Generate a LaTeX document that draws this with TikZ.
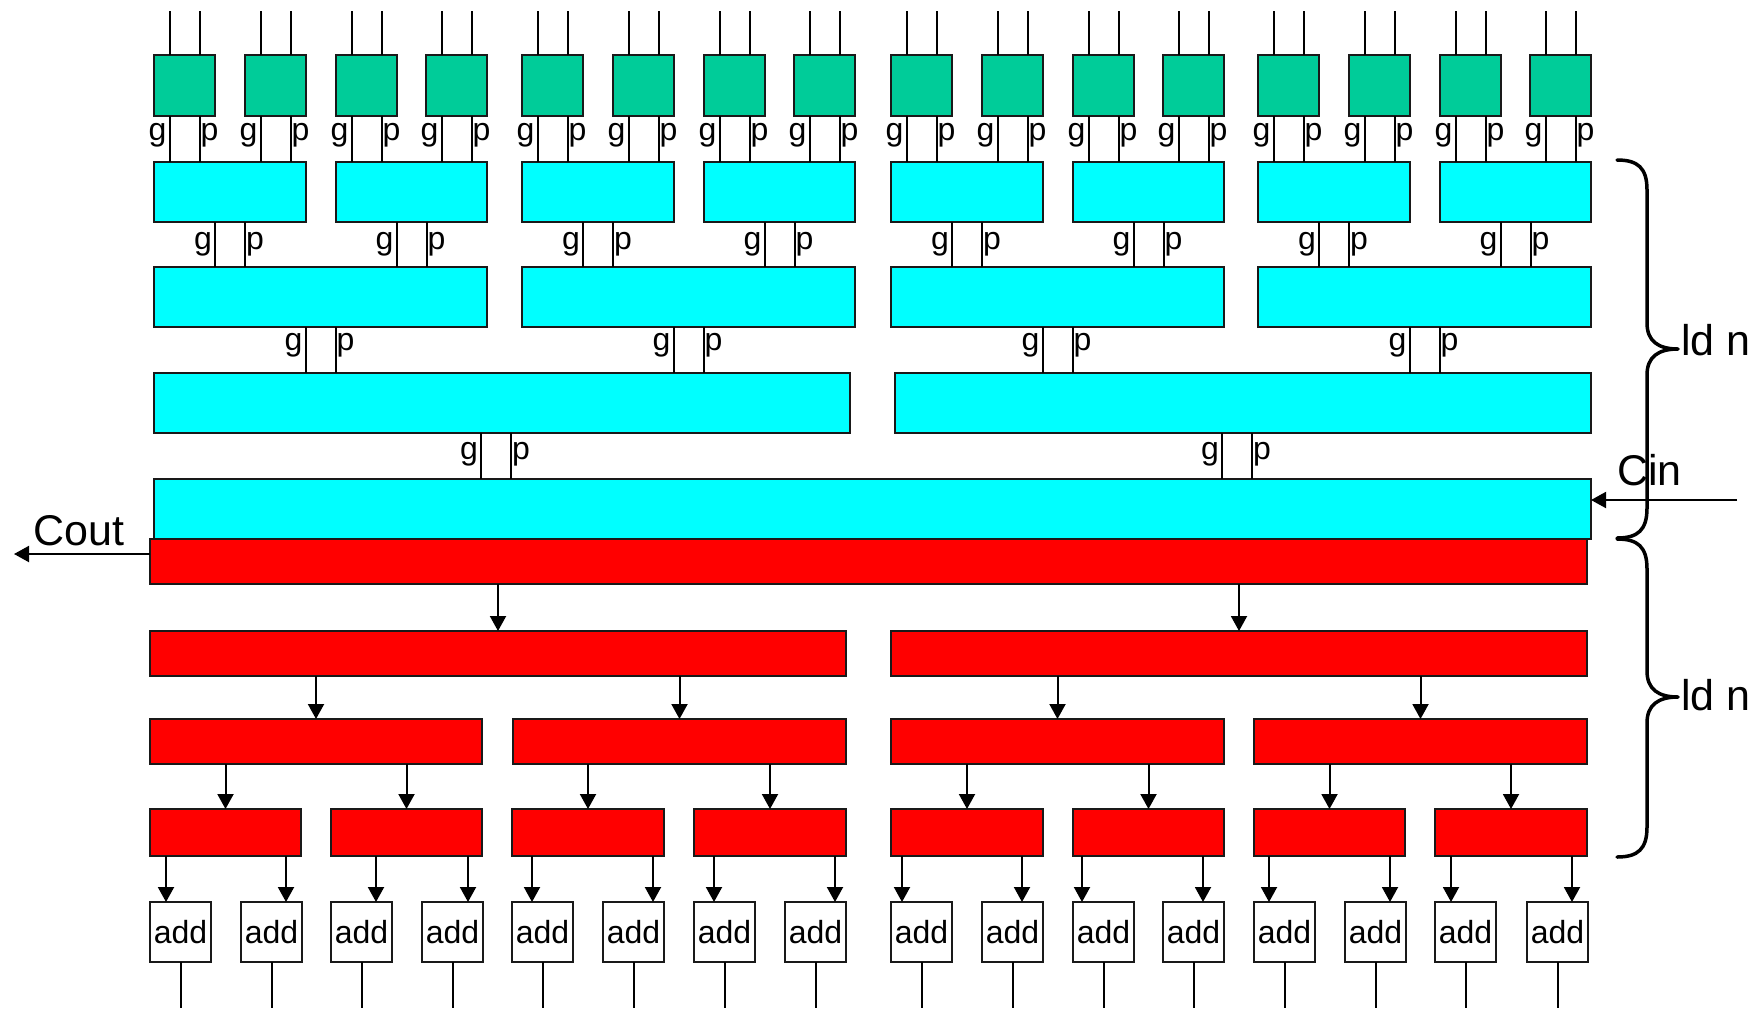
\documentclass[tikz,border=0pt]{standalone}
\usepackage{fontspec}
\setmainfont{Liberation Sans}
\usetikzlibrary{arrows.meta,fit}
\definecolor{gboxc}{RGB}{0,204,153}
\definecolor{cboxc}{RGB}{0,255,255}
\definecolor{rboxc}{RGB}{255,0,0}
\tikzset{
  box/.style={draw=black!90, line width=2pt, inner sep=0pt, outer sep=0pt},
  gbox/.style={box, fill=gboxc},
  cbox/.style={box, fill=cboxc},
  rbox/.style={box, fill=rboxc},
  abox/.style={box, fill=white, font=\fontsize{32}{32}\selectfont},
  wire/.style={line width=2pt, black},
  arr/.style={line width=2pt, black, -{Triangle[length=15pt,width=16pt]}},
  lbl/.style={inner sep=0pt, font=\fontsize{32}{32}\selectfont},
  big/.style={inner sep=0pt, font=\fontsize{43}{43}\selectfont},
  bracec/.style={line width=3.5pt, line cap=round, line join=round},
}
% #1 from node, #2 to node, #3 centre offset, #4 baseline coordinate, #5 name prefix
\newcommand{\gpwires}[5]{%
  \draw[wire] ([xshift=#3pt-15pt]#1.south) -- ([xshift=#3pt-15pt]#1.south |- #2.north);
  \draw[wire] ([xshift=#3pt+15pt]#1.south) -- ([xshift=#3pt+15pt]#1.south |- #2.north);
  \node[lbl, anchor=base east] (#5g) at ([xshift=#3pt-18pt]#1.south |- #4) {g};
  \node[lbl, anchor=base west] (#5p) at ([xshift=#3pt+16pt]#1.south |- #4) {p};
}
\newcommand{\brc}[3]{%
  \draw[bracec] (1617,#1) .. controls (1638,#1) and (1647,#1+8) .. (1647,#1+30)
    -- (1647,#2-26) .. controls (1647,#2-8) and (1658,#2) .. (1678,#2)
    .. controls (1658,#2) and (1647,#2+8) .. (1647,#2+26)
    -- (1647,#3-30) .. controls (1647,#3-8) and (1638,#3) .. (1617,#3);
}
\begin{document}
\begin{tikzpicture}[x=1pt,y=-1pt]
\useasboundingbox (0,0) rectangle (1763,1010);
% helper coordinates
\coordinate (topy) at (0,11);
\coordinate (bl0) at (0,140);
\coordinate (bl1) at (0,249);
\coordinate (bl2) at (0,350);
\coordinate (bl3) at (0,459);
\coordinate (outy) at (0,1008);

% green boxes
\foreach \l [count=\i] in {154,245,336,426,522,613,704,794,891,982,1073,1163,1258,1349,1440,1530}{
  \pgfmathsetmacro\xr{\l+61}
  \node[gbox, fit={(\l,55) (\xr,116)}] (g\i) {};
}
% level 1 cyan
\foreach \l/\xr [count=\j] in {154/306,336/487,522/674,704/855,891/1043,1073/1224,1258/1410,1440/1591}{
  \node[cbox, fit={(\l,162) (\xr,222)}] (c\j) {};
}
% level 2 cyan
\foreach \l/\xr [count=\j] in {154/487,522/855,891/1224,1258/1591}{
  \node[cbox, fit={(\l,267) (\xr,327)}] (d\j) {};
}
% level 3 cyan
\node[cbox, fit={(154,373) (850,433)}] (e1) {};
\node[cbox, fit={(895,373) (1591,433)}] (e2) {};
% level 4 cyan
\node[cbox, fit={(154,479) (1591,539)}] (f) {};

% input wires and g/p wires below green boxes
\foreach \i in {1,...,16}{
  \pgfmathtruncatemacro\j{(\i+1)/2}
  \draw[wire] ([xshift=-15pt]g\i.north) -- ([xshift=-15pt]g\i.north |- topy);
  \draw[wire] ([xshift=15pt]g\i.north) -- ([xshift=15pt]g\i.north |- topy);
  \gpwires{g\i}{c\j}{0}{bl0}{ga\i}
}
\foreach \i in {1,...,8}{
  \pgfmathtruncatemacro\j{(\i+1)/2}
  \gpwires{c\i}{d\j}{0}{bl1}{ca\i}
}
\foreach \i in {1,...,4}{
  \pgfmathtruncatemacro\j{(\i+1)/2}
  \gpwires{d\i}{e\j}{0}{bl2}{da\i}
}
\gpwires{e1}{f}{-6}{bl3}{ea1}
\gpwires{e2}{f}{-6}{bl3}{ea2}

% red tree
\node[rbox, fit={(150,539) (1587,584)}] (r0) {};
\node[rbox, fit={(150,631) (846,676)}] (r1a) {};
\node[rbox, fit={(891,631) (1587,676)}] (r1b) {};
\foreach \l/\xr [count=\j] in {150/482,513/846,891/1224,1254/1587}{
  \node[rbox, fit={(\l,719) (\xr,764)}] (q\j) {};
}
\foreach \l/\xr [count=\j] in {150/301,331/482,512/664,694/846,891/1043,1073/1224,1254/1405,1435/1587}{
  \node[rbox, fit={(\l,809) (\xr,856)}] (s\j) {};
}
\foreach \l [count=\i] in {150,241,331,422,512,603,694,785,891,982,1073,1163,1254,1345,1435,1527}{
  \pgfmathsetmacro\xr{\l+61}
  \node[abox, fit={(\l,902) (\xr,962)}] (a\i) {};
  \node[lbl] (at\i) at (a\i.center) {add};
  \draw[wire] (a\i.south) -- (a\i.south |- outy);
}
% red arrows
\draw[arr] (r1a.north |- r0.south) -- (r1a.north);
\draw[arr] (r1b.north |- r0.south) -- (r1b.north);
\draw[arr] (q1.north |- r1a.south) -- (q1.north);
\draw[arr] (q2.north |- r1a.south) -- (q2.north);
\draw[arr] (q3.north |- r1b.south) -- (q3.north);
\draw[arr] (q4.north |- r1b.south) -- (q4.north);
\foreach \i in {1,...,8}{
  \pgfmathtruncatemacro\j{(\i+1)/2}
  \draw[arr] (s\i.north |- q\j.south) -- (s\i.north);
}
\foreach \o [count=\i] in {-14.5,14.5,14.5,15.5,-10.5,19.5,-10.5,19.5,-19.5,9.5,-21.5,9.5,-15.5,14.5,-14.5,14.5}{
  \pgfmathtruncatemacro\j{(\i+1)/2}
  \draw[arr] ([xshift=\o pt]a\i.north |- s\j.south) -- ([xshift=\o pt]a\i.north);
}

% carry in / out
\coordinate (cinS) at (1737,500);
\draw[arr] (cinS) -- (f.east |- cinS);
\node[big, anchor=base west] (cin) at (1617,485) {Cin};
\coordinate (coutE) at (14,554);
\draw[arr] (r0.west |- coutE) -- (coutE);
\node[big, anchor=base west] (cout) at (33,545) {Cout};

% braces
\brc{160}{349}{538}
\brc{539}{697}{857}
\node[big, anchor=base west] (ld1) at (1681,355) {ld n};
\node[big, anchor=base west] (ld2) at (1681,710) {ld n};
\end{tikzpicture}
\end{document}
